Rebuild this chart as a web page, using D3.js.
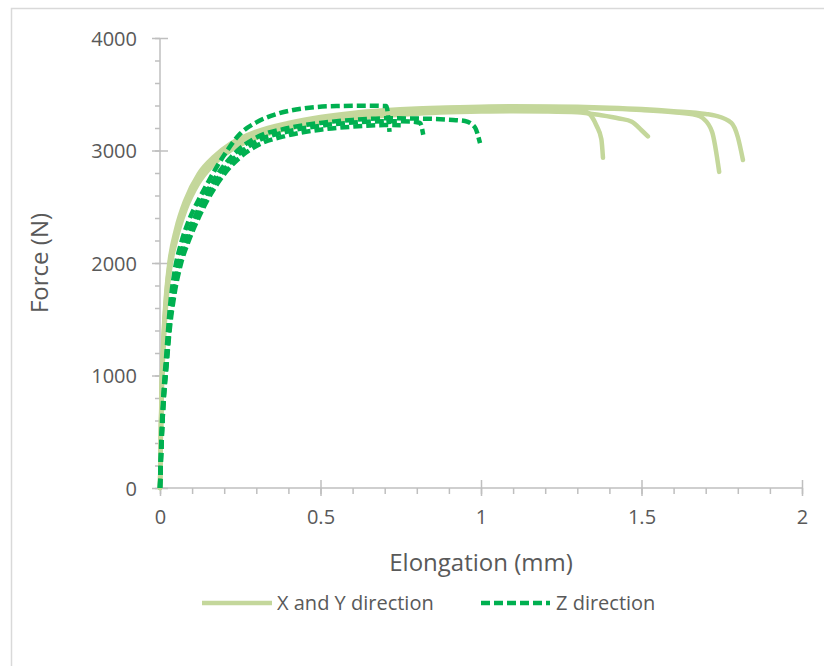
<!DOCTYPE html>
<html>
<head>
<meta charset="utf-8">
<script src="https://cdn.jsdelivr.net/npm/d3@7"></script>
<style>
  body { margin: 0; background: #fff; }
  text { font-family: "Open Sans", "Liberation Sans", sans-serif; fill: #595959; }
</style>
</head>
<body>
<div id="chart"></div>
<script>
// elongation (mm) / force (N) pairs
const xyA = [[0,0],[0.004,700],[0.01,1230],[0.02,1690],[0.03,1950],[0.05,2230],[0.08,2500],[0.12,2735],[0.17,2905],[0.22,3020],[0.3,3130],[0.4,3210],[0.5,3262],[0.6,3298],[0.7,3323],[0.8,3342],[0.9,3354],[1.0,3361],[1.1,3364],[1.2,3362],[1.3,3354],[1.33,3340],[1.36,3220],[1.375,3100],[1.38,2935]];
const xyB = [[0,0],[0.004,680],[0.01,1200],[0.02,1660],[0.03,1920],[0.05,2200],[0.08,2475],[0.12,2710],[0.17,2885],[0.22,3000],[0.3,3112],[0.4,3195],[0.5,3247],[0.6,3283],[0.7,3308],[0.8,3327],[0.9,3339],[1.0,3346],[1.1,3349],[1.2,3347],[1.3,3340],[1.37,3315],[1.43,3285],[1.47,3255],[1.5,3180],[1.52,3125]];
const xyC = [[0,0],[0.004,730],[0.01,1270],[0.02,1730],[0.03,1990],[0.05,2270],[0.08,2540],[0.12,2770],[0.17,2935],[0.22,3045],[0.3,3155],[0.4,3232],[0.5,3285],[0.6,3322],[0.7,3348],[0.8,3366],[0.9,3377],[1.0,3384],[1.1,3387],[1.2,3386],[1.3,3381],[1.4,3372],[1.5,3360],[1.6,3340],[1.67,3315],[1.69,3290],[1.72,3165],[1.742,2810]];
const xyD = [[0,0],[0.004,750],[0.01,1300],[0.02,1760],[0.03,2020],[0.05,2300],[0.08,2565],[0.12,2790],[0.17,2950],[0.22,3060],[0.3,3168],[0.4,3245],[0.5,3298],[0.6,3334],[0.7,3357],[0.8,3373],[0.9,3383],[1.0,3390],[1.1,3393],[1.2,3392],[1.3,3388],[1.4,3380],[1.5,3368],[1.6,3350],[1.7,3325],[1.73,3310],[1.78,3245],[1.8,3120],[1.816,2915]];

const zA = [[0,0],[0.005,500],[0.01,800],[0.02,1200],[0.03,1580],[0.045,1920],[0.065,2170],[0.09,2380],[0.12,2560],[0.15,2720],[0.2,2960],[0.25,3150],[0.3,3250],[0.37,3330],[0.45,3375],[0.55,3395],[0.65,3398],[0.705,3395],[0.715,3165]];
const zB = [[0,0],[0.005,420],[0.01,720],[0.02,1100],[0.03,1440],[0.045,1760],[0.065,2030],[0.09,2240],[0.12,2440],[0.15,2610],[0.2,2830],[0.25,2980],[0.3,3080],[0.4,3170],[0.5,3220],[0.6,3248],[0.7,3260],[0.78,3258],[0.81,3245],[0.82,3140]];
const zC = [[0,0],[0.005,440],[0.01,740],[0.02,1130],[0.03,1480],[0.045,1800],[0.065,2070],[0.09,2280],[0.12,2480],[0.15,2650],[0.2,2870],[0.25,3020],[0.3,3115],[0.4,3200],[0.5,3245],[0.6,3272],[0.7,3286],[0.8,3284],[0.9,3274],[0.95,3262],[0.98,3210],[0.997,3065]];
const zD = [[0,0],[0.005,400],[0.01,700],[0.02,1070],[0.03,1400],[0.045,1720],[0.065,1990],[0.09,2200],[0.12,2400],[0.15,2570],[0.2,2790],[0.25,2940],[0.3,3040],[0.4,3135],[0.5,3185],[0.6,3212],[0.7,3226],[0.75,3225]];

const xySeries = [xyA, xyB, xyC, xyD];
const zSeries = [zA, zB, zC, zD];
const xTicks = [0, 0.5, 1, 1.5, 2];
const yTicks = [0, 1000, 2000, 3000, 4000];
const legendLabels = ['X and Y direction', 'Z direction'];

const width = 824, height = 666;
const margin = { left: 160, right: 22, top: 38, bottom: 178 };

const svg = d3.select('#chart').append('svg')
  .attr('width', width)
  .attr('height', height);

// chart frame
svg.append('rect')
  .attr('x', 11.5).attr('y', 8.5)
  .attr('width', 900).attr('height', 700)
  .attr('fill', 'none')
  .attr('stroke', '#d9d9d9')
  .attr('stroke-width', 1.5);

const x = d3.scaleLinear().domain([0, 2]).range([margin.left, width - margin.right]);
const y = d3.scaleLinear().domain([0, 4000]).range([height - margin.bottom, margin.top]);

const axisColor = '#bfbfbf';
const font = '"Open Sans", "Liberation Sans", sans-serif';

// x axis: minor ticks outside, major ticks crossing
const xAxis = svg.append('g').attr('transform', `translate(0,${y(0)})`);
xAxis.call(d3.axisBottom(x).tickValues(d3.range(0, 2.0001, 0.1)).tickSize(6).tickFormat(''));
xAxis.call(g => g.selectAll('.tick line').attr('stroke', axisColor).attr('stroke-width', 1.5));
xAxis.select('.domain').attr('stroke', axisColor).attr('stroke-width', 1.5).attr('d', `M${x(0)},0H${x(2)}`);
const xMajor = svg.append('g').attr('transform', `translate(0,${y(0)})`);
xMajor.call(d3.axisBottom(x).tickValues(xTicks).tickSize(8).tickFormat(d3.format('')));
xMajor.select('.domain').remove();
xMajor.selectAll('.tick line').attr('y1', -8).attr('stroke', axisColor).attr('stroke-width', 1.5);
xMajor.selectAll('.tick text').attr('y', 22).attr('dy', '0.71em').attr('font-size', 20).style('fill', '#595959')
  .attr('font-family', font);

// y axis
const yAxis = svg.append('g').attr('transform', `translate(${x(0)},0)`);
yAxis.call(d3.axisLeft(y).tickValues(d3.range(0, 4001, 200)).tickSize(5).tickFormat(''));
yAxis.call(g => g.selectAll('.tick line').attr('stroke', axisColor).attr('stroke-width', 1.5));
yAxis.select('.domain').attr('stroke', axisColor).attr('stroke-width', 1.5).attr('d', `M0,${y(0)}V${y(4000)}`);
const yMajor = svg.append('g').attr('transform', `translate(${x(0)},0)`);
yMajor.call(d3.axisLeft(y).tickValues(yTicks).tickSize(8).tickFormat(d3.format('')));
yMajor.select('.domain').remove();
yMajor.selectAll('.tick line').attr('x1', 8).attr('stroke', axisColor).attr('stroke-width', 1.5);
yMajor.selectAll('.tick text').attr('x', -23).attr('dy', '0.35em').attr('font-size', 20).style('fill', '#595959')
  .attr('font-family', font);

const line = d3.line()
  .x(d => x(d[0]))
  .y(d => y(d[1]))
  .curve(d3.curveMonotoneX);

const solidColor = '#c4d79b';
const dashColor = '#00b050';

xySeries.forEach(s => {
  svg.append('path')
    .datum(s)
    .attr('d', line)
    .attr('fill', 'none')
    .attr('stroke', solidColor)
    .attr('stroke-width', 4.5)
    .attr('stroke-linecap', 'round')
    .attr('stroke-linejoin', 'round');
});

zSeries.forEach(s => {
  svg.append('path')
    .datum(s)
    .attr('d', line)
    .attr('fill', 'none')
    .attr('stroke', dashColor)
    .attr('stroke-width', 4.5)
    .attr('stroke-dasharray', '9,4')
    .attr('stroke-linejoin', 'round');
});

// axis titles
svg.append('text')
  .attr('transform', `translate(40,${(y(0) + y(4000)) / 2}) rotate(-90)`)
  .attr('text-anchor', 'middle')
  .attr('dy', '0.35em')
  .attr('font-size', 24)
  .text('Force (N)');

svg.append('text')
  .attr('x', (x(0) + x(2)) / 2)
  .attr('y', 563)
  .attr('dy', '0.35em')
  .attr('text-anchor', 'middle')
  .attr('font-size', 24)
  .text('Elongation (mm)');

// legend
const legend = svg.append('g').attr('transform', 'translate(0,603)');
legend.append('line')
  .attr('x1', 202).attr('x2', 272).attr('y1', 0).attr('y2', 0)
  .attr('stroke', solidColor).attr('stroke-width', 4.5);
legend.append('text')
  .attr('x', 277).attr('y', 0).attr('dy', '0.35em')
  .attr('font-size', 20)
  .text(legendLabels[0]);
legend.append('line')
  .attr('x1', 481).attr('x2', 550).attr('y1', 0).attr('y2', 0)
  .attr('stroke', dashColor).attr('stroke-width', 4.5)
  .attr('stroke-dasharray', '9,4');
legend.append('text')
  .attr('x', 556).attr('y', 0).attr('dy', '0.35em')
  .attr('font-size', 20)
  .text(legendLabels[1]);
</script>
</body>
</html>
